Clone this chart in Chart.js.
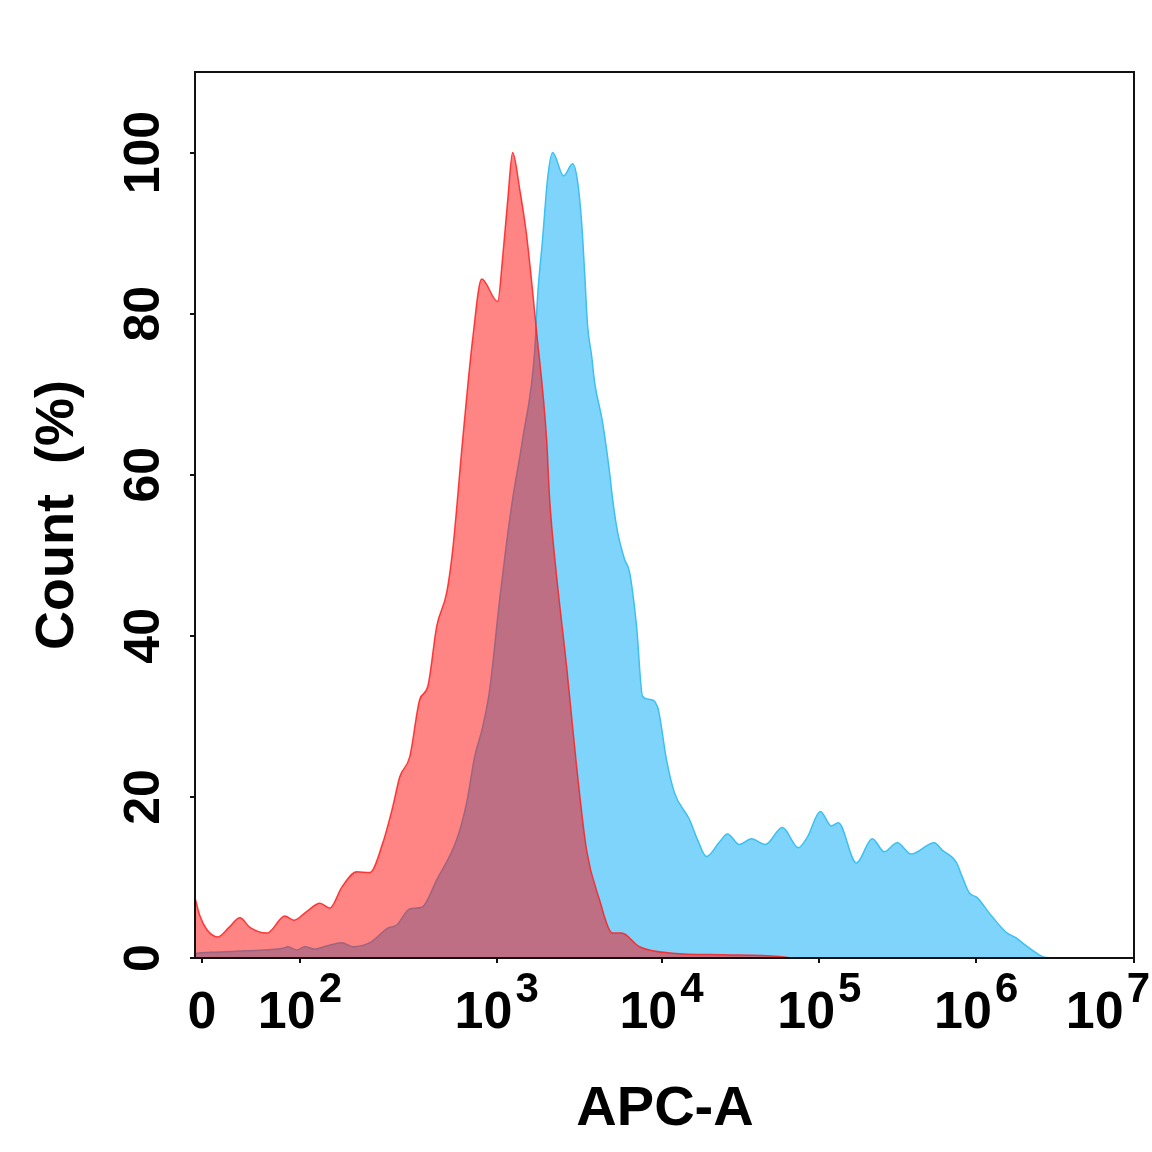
<!DOCTYPE html>
<html>
<head>
<meta charset="utf-8">
<script src="https://cdn.jsdelivr.net/npm/chart.js@4/dist/chart.umd.min.js"></script>
<style>
  html, body { margin: 0; padding: 0; background: #fff; }
  #wrap { width: 1152px; height: 1152px; position: relative; }
</style>
</head>
<body>
<div id="wrap"><canvas id="histChart"></canvas></div>
<script>
// display channel (0..940 across the plot) and count in %
const redX = [0, 5, 12, 23, 34, 45, 55, 72, 90, 99, 112, 125, 135, 147, 162, 175, 188, 198, 205, 215, 225, 233, 242, 252, 258, 268, 278, 287, 303, 308, 313, 318, 325, 332, 342, 352, 355, 361, 372, 382, 392, 405, 418, 427, 445, 478, 530, 585, 600, 940];
const redY = [7.5, 5.2, 3.5, 2.6, 3.8, 5.0, 3.8, 3.1, 5.2, 4.7, 5.8, 6.8, 6.2, 8.8, 10.7, 10.6, 14.3, 18.8, 22.5, 25.0, 32.1, 33.7, 41.2, 45.4, 50.7, 64.4, 76.9, 84.3, 81.5, 87.0, 94.0, 100, 95.5, 89.7, 77.7, 64.4, 57.0, 48.6, 36.2, 23.8, 13.4, 7.2, 3.1, 3.1, 1.4, 0.6, 0.4, 0.2, 0, 0];

const blueX = [0, 2, 15, 50, 88, 93, 102, 110, 120, 132, 147, 158, 175, 193, 202, 215, 227, 242, 262, 272, 280, 288, 295, 305, 312, 318, 328, 340, 343, 348, 353, 358, 369, 378, 383, 387, 390, 393, 397, 400, 408, 415, 418, 423, 430, 435, 442, 448, 455, 463, 472, 480, 495, 503, 512, 525, 533, 545, 557, 571, 588, 604, 613, 626, 637, 644, 662, 678, 690, 703, 717, 740, 748, 762, 768, 775, 783, 795, 812, 822, 828, 845, 850, 860, 940];
const blueY = [0.3, 0.6, 0.7, 0.9, 1.2, 1.4, 1.0, 1.4, 1.1, 1.5, 1.9, 1.4, 1.9, 3.7, 4.1, 6.1, 6.3, 9.7, 14.7, 19.3, 25.0, 28.7, 33.3, 44.5, 51.6, 57.0, 64.4, 75.2, 82.2, 89.3, 96.8, 100, 97.1, 98.6, 96.4, 91.4, 85.2, 78.5, 74.8, 71.5, 66.5, 60.3, 57.0, 52.9, 49.5, 47.9, 41.2, 32.5, 32.1, 31.2, 24.6, 20.5, 17.2, 14.7, 12.6, 14.4, 15.4, 14.1, 14.8, 14.1, 16.2, 13.7, 15.0, 18.2, 16.4, 16.8, 11.8, 14.8, 13.2, 14.3, 12.9, 14.3, 13.4, 11.9, 10.1, 8.1, 7.5, 5.6, 3.2, 2.5, 1.9, 0.4, 0.1, 0, 0];

// x ticks: channel position, base text, exponent
const xTickPos = [7, 105, 302, 467, 625, 782, 940];
const xTickBase = ['0', '10', '10', '10', '10', '10', '10'];
const xTickExp = ['', '2', '3', '4', '5', '6', '7'];
const yTicks = [0, 20, 40, 60, 80, 100];

const FONT = '"Liberation Sans", Arial, sans-serif';

function pts(xs, ys) {
    return xs.map((v, i) => ({ x: v, y: ys[i] }));
}

// all labels drawn here so they can be rotated / superscripted
const labelsPlugin = {
    id: 'labelsPlugin',
    afterDraw(chart) {
        const { ctx, chartArea: a, scales: { x, y } } = chart;
        ctx.save();
        ctx.strokeStyle = '#111';
        ctx.lineWidth = 2;
        ctx.strokeRect(a.left, a.top, a.right - a.left, a.bottom - a.top);

        ctx.fillStyle = '#000';
        ctx.textBaseline = 'alphabetic';

        // y tick labels (rotated)
        ctx.font = 'bold 50px ' + FONT;
        ctx.textAlign = 'center';
        yTicks.forEach(v => {
            ctx.save();
            ctx.translate(159, y.getPixelForValue(v));
            ctx.rotate(-Math.PI / 2);
            ctx.fillText(String(v), 0, 0);
            ctx.restore();
        });

        // x tick labels with exponents
        ctx.textAlign = 'left';
        xTickPos.forEach((p, i) => {
            const px = x.getPixelForValue(p);
            ctx.font = 'bold 52px ' + FONT;
            const wb = ctx.measureText(xTickBase[i]).width;
            ctx.font = 'bold 42px ' + FONT;
            const we = xTickExp[i] ? ctx.measureText(xTickExp[i]).width + 3 : 0;
            let start = px - (wb + we) / 2;
            if (start + wb + we > 1150) start = 1150 - wb - we;
            ctx.font = 'bold 52px ' + FONT;
            ctx.fillText(xTickBase[i], start, 1028);
            if (xTickExp[i]) {
                ctx.font = 'bold 42px ' + FONT;
                ctx.fillText(xTickExp[i], start + wb + 3, 1002);
            }
        });

        // axis titles
        ctx.font = 'bold 56px ' + FONT;
        ctx.textAlign = 'center';
        ctx.fillText('APC-A', 665, 1125);
        ctx.font = 'bold 54px ' + FONT;
        ctx.save();
        ctx.translate(73, 515);
        ctx.rotate(-Math.PI / 2);
        ctx.fillText('Count  (%)', 0, 0);
        ctx.restore();

        ctx.restore();
    }
};

const ctx = document.getElementById('histChart').getContext('2d');
new Chart(ctx, {
    type: 'line',
    data: {
        datasets: [{
            label: 'Control',
            data: pts(redX, redY),
            order: 0,
            borderColor: 'rgba(255, 30, 30, 0.85)',
            backgroundColor: 'rgba(255, 10, 10, 0.5)',
            borderWidth: 1.5,
            fill: 'origin',
            pointRadius: 0,
            cubicInterpolationMode: 'monotone'
        }, {
            label: 'Stained',
            data: pts(blueX, blueY),
            order: 1,
            borderColor: '#3cc0f2',
            backgroundColor: 'rgb(127, 212, 252)',
            borderWidth: 1.5,
            fill: 'origin',
            pointRadius: 0,
            cubicInterpolationMode: 'monotone'
        }]
    },
    options: {
        responsive: true,
        maintainAspectRatio: false,
        animation: false,
        layout: { padding: { top: 72, right: 18, left: 0, bottom: 0 } },
        plugins: {
            legend: { display: false },
            tooltip: { enabled: false }
        },
        scales: {
            x: {
                type: 'linear',
                min: 0,
                max: 940,
                afterBuildTicks: s => { s.ticks = xTickPos.map(v => ({ value: v })); },
                afterFit: s => { s.height = 194; },
                ticks: { display: false },
                grid: { drawOnChartArea: false, color: '#111', lineWidth: 2, tickLength: 5 },
                border: { color: '#111', width: 2 }
            },
            y: {
                min: 0,
                max: 110,
                afterBuildTicks: s => { s.ticks = yTicks.map(v => ({ value: v })); },
                afterFit: s => { s.width = 195; },
                ticks: { display: false },
                grid: { drawOnChartArea: false, color: '#111', lineWidth: 2, tickLength: 5 },
                border: { color: '#111', width: 2 }
            }
        }
    },
    plugins: [labelsPlugin]
});
</script>
</body>
</html>
